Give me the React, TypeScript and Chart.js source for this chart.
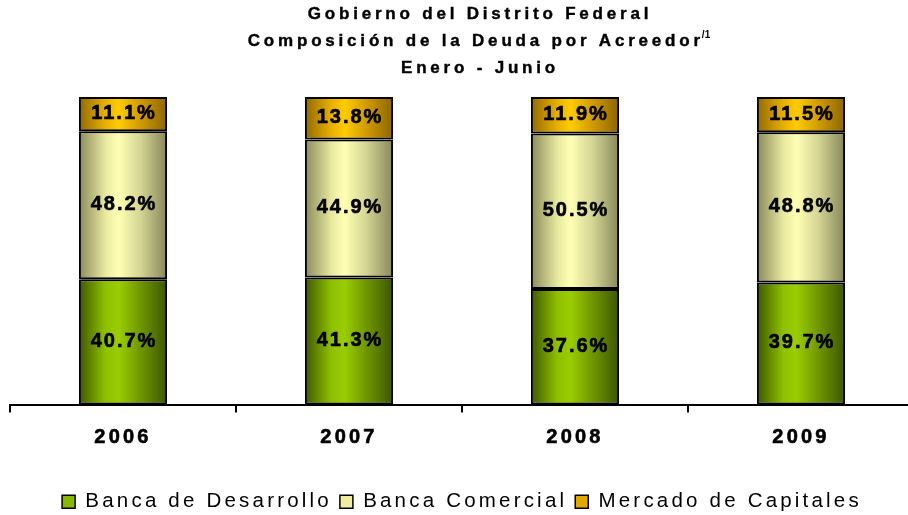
import React, { useEffect, useRef } from "react";
import { Chart, registerables } from "chart.js";

Chart.register(...registerables);

const categories = ["2006", "2007", "2008", "2009"];
const seriesNames = ["Banca de Desarrollo", "Banca Comercial", "Mercado de Capitales"];
const desarrollo = [40.7, 41.3, 37.6, 39.7];
const comercial = [48.2, 44.9, 50.5, 48.8];
const capitales = [11.1, 13.8, 11.9, 11.5];
const titleLines = ["Gobierno del Distrito Federal", "Composición de la Deuda por Acreedor", "Enero - Junio"];
const titleSup = "/1";

const FONT = "'Liberation Sans', Arial, sans-serif";
const BAR_FRACTION = 0.39;

const palettes = [
  { base: "#88b800", stops: ["#3f5800", "#8fc000", "#9acd00", "#6f9600", "#3d5600"] },
  { base: "#eeeea0", stops: ["#8a8a5c", "#e8e8a0", "#ffffb4", "#d4d494", "#86865a"] },
  { base: "#e0a800", stops: ["#926a00", "#e8b000", "#ffcc00", "#d09a00", "#8c6600"] },
];

function gradientFor(idx: number) {
  const p = palettes[idx];
  return (c: any) => {
    const chart = c.chart;
    const xs = chart.scales && chart.scales.x;
    if (!xs || !chart.chartArea || c.dataIndex === undefined || c.type !== "data") return p.base;
    const cx = xs.getPixelForValue(c.dataIndex);
    const w = (xs.width / categories.length) * BAR_FRACTION;
    const g = chart.ctx.createLinearGradient(cx - w / 2, 0, cx + w / 2, 0);
    const pos = [0, 0.3, 0.45, 0.7, 1];
    p.stops.forEach((s, i) => g.addColorStop(pos[i], s));
    return g;
  };
}

const spacingPlugin = {
  id: "spacing",
  beforeLayout(chart: any) {
    chart.ctx.letterSpacing = "3.2px";
  },
  beforeDraw(chart: any) {
    chart.ctx.letterSpacing = "3.2px";
  },
};

const shadowPlugin = {
  id: "barShadow",
  beforeDatasetsDraw(chart: any) {
    const ctx = chart.ctx;
    ctx.save();
    ctx.shadowColor = "rgba(0,0,0,0.18)";
    ctx.shadowOffsetX = 5;
    ctx.shadowOffsetY = 0;
    ctx.shadowBlur = 0;
  },
  afterDatasetsDraw(chart: any) {
    chart.ctx.restore();
  },
};

const labelsPlugin = {
  id: "segLabels",
  afterDatasetsDraw(chart: any) {
    const ctx = chart.ctx;
    ctx.save();
    ctx.letterSpacing = "2px";
    ctx.font = `bold 20px ${FONT}`;
    ctx.fillStyle = "#000";
    ctx.strokeStyle = "#000";
    ctx.lineWidth = 0.6;
    ctx.textAlign = "center";
    ctx.textBaseline = "alphabetic";
    chart.data.datasets.forEach((ds: any, di: number) => {
      const meta = chart.getDatasetMeta(di);
      meta.data.forEach((el: any, i: number) => {
        const { x, y, base } = el.getProps(["x", "y", "base"], true);
        const v = ds.data[i];
        const t = v.toFixed(1) + "%";
        const ty = (y + base) / 2 + 5;
        ctx.fillText(t, x + 1, ty);
        ctx.strokeText(t, x + 1, ty);
      });
    });
    ctx.restore();
  },
};

const titlePlugin = {
  id: "multiTitle",
  afterDraw(chart: any) {
    const ctx = chart.ctx;
    ctx.save();
    ctx.fillStyle = "#000";
    ctx.strokeStyle = "#000";
    ctx.lineWidth = 0.4;
    ctx.textBaseline = "alphabetic";
    ctx.textAlign = "left";
    const cx = 480;
    const baselines = [19, 46, 73];
    titleLines.forEach((line, i) => {
      ctx.font = `bold 17px ${FONT}`;
      ctx.letterSpacing = "3.8px";
      const w = ctx.measureText(line).width;
      let supW = 0;
      if (i === 1) {
        ctx.font = `bold 10px ${FONT}`;
        ctx.letterSpacing = "0px";
        supW = ctx.measureText(titleSup).width;
      }
      const x0 = cx - (w + supW) / 2;
      ctx.font = `bold 17px ${FONT}`;
      ctx.letterSpacing = "3.8px";
      ctx.fillText(line, x0, baselines[i]);
      ctx.strokeText(line, x0, baselines[i]);
      if (i === 1) {
        ctx.font = `bold 10px ${FONT}`;
        ctx.letterSpacing = "0px";
        ctx.fillText(titleSup, x0 + w - 2, baselines[i] - 8);
      }
    });
    ctx.restore();
  },
};

export default function App() {
  const ref = useRef<HTMLCanvasElement | null>(null);

  useEffect(() => {
    document.documentElement.style.overflow = "hidden";
    document.body.style.overflow = "hidden";
    const canvas = ref.current;
    if (!canvas) return;
    const series = [desarrollo, comercial, capitales];
    const chart = new Chart(canvas, {
      type: "bar",
      data: {
        labels: categories,
        datasets: series.map((d, i) => ({
          label: seriesNames[i],
          data: d,
          backgroundColor: gradientFor(i),
          borderColor: "#000",
          borderWidth: 2,
          borderSkipped: false,
          barPercentage: BAR_FRACTION,
          categoryPercentage: 1,
        })),
      },
      options: {
        animation: false,
        responsive: true,
        maintainAspectRatio: false,
        layout: { padding: { left: 10, right: 2, top: 97, bottom: -7 } },
        scales: {
          x: {
            stacked: true,
            border: { display: true, color: "#000", width: 2 },
            grid: {
              display: true,
              drawOnChartArea: false,
              drawTicks: true,
              tickLength: 8,
              color: "#000",
              lineWidth: 2,
              offset: true,
            },
            ticks: {
              color: "#000",
              font: { family: FONT, size: 20, weight: "bold" },
              padding: 13,
              maxRotation: 0,
              textStrokeColor: "#000",
              textStrokeWidth: 0.6,
            },
            afterFit: (s: any) => {
              s.height += 21;
            },
          },
          y: {
            stacked: true,
            display: false,
            min: 0,
            max: 100,
          },
        },
        plugins: {
          title: { display: false },
          tooltip: { enabled: false },
          legend: {
            position: "bottom",
            labels: {
              color: "#000",
              font: { family: FONT, size: 20.5 },
              boxWidth: 13,
              boxHeight: 13,
              padding: 8,
              generateLabels: (ch: any) =>
                ch.data.datasets.map((ds: any, i: number) => ({
                  text: ds.label,
                  fillStyle: palettes[i].base,
                  strokeStyle: "#000",
                  lineWidth: 1.5,
                  hidden: false,
                  datasetIndex: i,
                  fontColor: "#000",
                })),
            },
          },
        },
      },
      plugins: [spacingPlugin, shadowPlugin, labelsPlugin, titlePlugin],
    } as any);
    return () => chart.destroy();
  }, []);

  return (
    <div style={{ position: "absolute", left: 0, top: 0, width: 916, height: 515 }}>
      <canvas ref={ref} />
    </div>
  );
}
